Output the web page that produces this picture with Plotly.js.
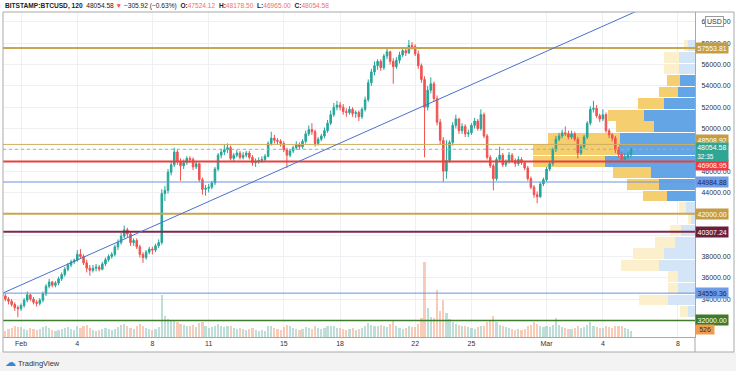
<!DOCTYPE html>
<html>
<head>
<meta charset="utf-8">
<script src="https://cdn.plot.ly/plotly-3.0.1.min.js"></script>
<style>html,body{margin:0;padding:0;background:#fff;}#chart{width:736px;height:371px;}</style>
</head>
<body>
<div id="chart"></div>
<script>
// ---------- DATA ----------
const symbol = 'BITSTAMP:BTCUSD, 120';
const lastPrice = 48054.58;
const change = '−305.92';
const changePct = '(−0.63%)';
const barO = '47524.12', barH = '48178.50', barL = '46965.00', barC = '48054.58';
const countdown = '32:35';
const lastVolLabel = '526';

const days = ['2021-01-31','2021-02-01','2021-02-02','2021-02-03','2021-02-04','2021-02-05','2021-02-06','2021-02-07',
  '2021-02-08','2021-02-09','2021-02-10','2021-02-11','2021-02-12','2021-02-13','2021-02-14','2021-02-15','2021-02-16',
  '2021-02-17','2021-02-18','2021-02-19','2021-02-20','2021-02-21','2021-02-22','2021-02-23','2021-02-24','2021-02-25',
  '2021-02-26','2021-02-27','2021-02-28','2021-03-01','2021-03-02','2021-03-03','2021-03-04','2021-03-05'];
const sessions = ['00:00','04:00','08:00','12:00','16:00','20:00'];

const open = [
34500,34300,34000,33800,33500,33200, 33100,33400,33900,34400,34000,33700, 33600,33900,34500,35200,35600,35300,
35500,35900,36300,36800,37200,37500, 37650,38200,38000,37400,36900,36700, 36900,37000,36800,37300,37700,38000,
38200,38900,39300,39900,40500,40100, 39300,39500,38900,38200,37900,38400, 38700,38600,39000,39300,43900,44200,
45900,46600,47800,46900,46500,46800, 47200,47100,46400,46700,45200,44300, 44400,44500,44900,46200,47500,47800,
48000,48200,47200,47500,47700,47300, 47500,47700,47300,46800,46900,47000, 47100,47400,48600,49100,48900,48800,
48600,48000,47500,47900,48200,48500, 48300,48800,49500,49900,49700,48600, 49000,49300,49800,50500,51300,52000,
52200,52000,51600,51500,51800,51400, 51500,51100,51800,52700,54300,55300, 55900,56300,55700,56800,57200,56300,
55800,56400,56900,57300,57100,57800, 57700,57000,55900,54600,52000,53600, 54200,52800,50600,48900,46000,47000,
48700,50300,50900,49800,50200,49500, 49600,50300,50700,50000,51300,49300, 47300,46500,45300,47100,47500,46600,
46900,47500,47000,46700,47100,46800, 46300,45300,44500,43800,43600,44800, 45200,46200,46700,48000,49000,49300,
49600,49500,49200,49500,49000,47700, 48300,49200,50500,51800,51900,51200, 50900,51300,49800,49400,49100,48000,
47600,47100,47300,47524.12];
const high = [
34700,34500,34200,34000,33700,33400, 33600,34100,34700,34500,34200,33900, 34100,34700,35400,35900,35700,35700,
36100,36500,37000,37400,37700,37800, 38600,38700,38200,37700,37200,37200, 37300,37200,37500,37900,38200,38400,
39100,39600,40200,40900,40700,40300, 39700,39700,39100,38400,38600,38900, 38900,39200,39600,44300,44600,46200,
46900,48200,48000,47200,47100,47400, 47400,47300,46900,46800,45400,44700, 44800,45100,46400,47700,48100,48500,
48600,48400,47700,48000,47900,47800, 47900,47900,47500,47200,47300,47400, 47600,48800,49700,49400,49100,49000,
48800,48200,48100,48400,48800,48700, 49000,49800,50300,50500,49900,49200, 49500,50100,50800,51700,52400,52600,
52500,52300,51900,52100,52000,51700, 51700,52000,53000,54600,55600,56300, 56500,56500,57000,57500,57300,56600,
56700,57200,57600,57500,58300,58100, 57900,57300,56100,54900,54000,54800, 54400,53100,50900,49200,48900,48900,
50600,51300,51000,50500,50400,49900, 50500,51000,50900,51800,51500,49500, 47500,46700,47300,48300,47700,47100,
47800,47700,47200,47400,47300,46900, 46500,45500,44700,44100,45000,45400, 46400,46900,48200,49300,49600,49900,
50200,49800,49800,49700,49200,48500, 49400,50700,52100,52600,52200,51400, 51800,51500,50000,49600,49300,48300,
47800,47700,47800,48178.50];
const low = [
34100,33800,33500,33300,32900,32300, 32900,33200,33700,33800,33500,33300, 33400,33700,34300,35000,35100,35100,
35300,35700,36100,36600,37000,37300, 37500,37800,37200,36500,36200,36500, 36600,36600,36700,37100,37500,37800,
38000,38600,39100,39700,39800,39000, 39000,38700,37900,37400,37700,38200, 38200,38400,38800,39100,43200,43900,
45600,46400,46600,45100,46200,46600, 46800,46100,46200,45000,43800,43700, 44000,44300,44700,46000,47200,47500,
47700,47000,46900,47300,47100,47100, 47300,47100,46500,46400,46700,46800, 46900,47300,48400,48600,48500,48300,
47800,46300,47300,47700,48000,48000, 48100,48600,49300,49400,48300,48400, 48800,49100,49600,50300,51100,51700,
51700,51300,51100,51300,51100,51000, 50700,50900,51600,52500,54000,55000, 55500,55400,55500,56500,56000,54200,
55600,56100,56700,56800,57000,57400, 56800,55600,54300,47300,51700,53300, 52500,50300,48500,45000,45300,46800,
48400,50000,49500,49500,49200,49200, 49400,50000,49800,49800,49100,47100, 46300,44200,45100,46900,46400,46400,
46700,46800,46400,46500,46600,46100, 45100,44300,43500,43000,43500,44600, 45000,46000,46500,47800,48800,49100,
49300,49000,49000,48800,47200,47500, 48100,49000,50300,51500,51000,50600, 50700,49600,49100,48800,47700,47300,
46965,47000,47100,47300];
const close = [
34300,34000,33800,33500,33200,33100, 33400,33900,34400,34000,33700,33600, 33900,34500,35200,35600,35300,35500,
35900,36300,36800,37200,37500,37650, 38200,38000,37400,36900,36700,36900, 37000,36800,37300,37700,38000,38200,
38900,39300,39900,40500,40100,39300, 39500,38900,38200,37900,38400,38700, 38600,39000,39300,43900,44200,45900,
46600,47800,46900,46500,46800,47200, 47100,46400,46700,45200,44300,44400, 44500,44900,46200,47500,47800,48000,
48200,47200,47500,47700,47300,47500, 47700,47300,46800,46900,47000,47100, 47400,48600,49100,48900,48800,48600,
48000,47500,47900,48200,48500,48300, 48800,49500,49900,49700,48600,49000, 49300,49800,50500,51300,52000,52200,
52000,51600,51500,51800,51400,51500, 51100,51800,52700,54300,55300,55900, 56300,55700,56800,57200,56300,55800,
56400,56900,57300,57100,57800,57700, 57000,55900,54600,52000,53600,54200, 52800,50600,48900,46000,47000,48700,
50300,50900,49800,50200,49500,49600, 50300,50700,50000,51300,49300,47300, 46500,45300,47100,47500,46600,46900,
47500,47000,46700,47100,46800,46300, 45300,44500,43800,43600,44800,45200, 46200,46700,48000,49000,49300,49600,
49500,49200,49500,49000,47700,48300, 49200,50500,51800,51900,51200,50900, 51300,49800,49400,49100,48000,47600,
47100,47300,47500,48054.58];
const volume = [
900,800,1000,1100,1300,1200, 1200,1000,900,1100,1000,900, 1000,1200,1300,1100,900,800,
900,1000,1100,1200,1000,900, 1300,1100,1400,1500,1100,900, 800,900,1000,1100,1000,900,
1000,1200,1500,1600,1300,1100, 1000,1300,1600,1400,1100,1000, 900,1000,1200,5200,2600,2200,
2000,2100,1800,1600,1500,1400, 1300,1500,1200,1700,1800,1300, 1100,1200,1400,1600,1300,1200,
1300,1400,1100,1000,1100,1000, 900,1000,1100,900,800,900, 800,1300,1400,1100,1000,900,
1200,1500,1300,1100,1000,900, 1000,1200,1100,1000,1400,1100, 1000,1100,1300,1400,1300,1100,
1100,1000,900,1000,1100,900, 1000,1100,1400,1700,1500,1300, 1400,1500,1300,1200,1600,2000,
1300,1100,1000,1100,1300,1200, 1200,1600,2300,9200,3600,2500, 2400,5800,3200,4600,3000,2200,
1800,1600,1500,1400,1300,1200, 1100,1000,1200,1300,1400,1900, 2100,2600,1800,1500,1300,1200,
1100,1000,900,1000,900,1000, 1300,1500,1800,1600,1400,1200, 1300,1200,1500,2400,1500,1200,
1100,1000,1000,1100,1300,1100, 1200,1500,1900,1400,1200,1100, 1100,1300,1200,1100,1400,1300,
1300,1100,1000,800];

// Volume profile (visible range), rows top -> bottom
const profPrice = [57758,56675,55592,54508,53425,52342,51258,50175,49092,48008,46925,45842,
  44758,43675,42592,41508,40425,39342,38258,37175,36092,35008,33925,32842];
const profUp   = [7,16,16,15,17,31,51,41,75,76,90,44,36,28,9,4,14,20,31,36,17,17,27,7];
const profDown = [4,15,15,13,19,26,36,38,72,86,72,38,32,24,7,3,11,20,31,38,10,10,29,8];
const valueAreaHigh = 55050, valueAreaLow = 43130;

// Horizontal levels drawn on chart
const levels      = [57553.81, 48508.92, 46908.95, 44984.88, 42000.00, 40307.24, 34559.36, 32000.00];
const levelColors = ['#c9a552','#cfae62','#e8403c','#6d93e0','#c9a552','#7c2a4c','#6d93e0','#3f7d2e'];
const levelLabelBg= ['#c49c45','#c49c45','#f23645','#6f9be6','#c49c45','#6b1f3f','#6f9be6','#3e7a2a'];
const levelLabelFg= ['#fff','#fff','#fff','#1b2a48','#fff','#fff','#1b2a48','#fff'];
const levelWidths = [2,1,2,1,2,2,1,1.5];
const levelShift  = [0,4,-4,0,0,0,0,0];

// Trend line drawing
const trendTime  = ['2021-01-31 00:59','2021-03-08 00:00'];
const trendPrice = [34572, 62730];

const tickDates = ['2021-02-01','2021-02-04','2021-02-08','2021-02-11','2021-02-15','2021-02-18',
  '2021-02-22','2021-02-25','2021-03-01','2021-03-04','2021-03-08'];
const tickText = ['Feb','4','8','11','15','18','22','25','Mar','4','8'];
// price-scale labels not hidden behind level labels
const priceTicks = [34000,36000,38000,44000,46000,50000,52000,54000,56000,58000,60000];

// ---------- BUILD ----------
const times = [];
for (const d of days) for (const s of sessions) if (times.length < close.length) times.push(d + ' ' + s);

const UP = '#26a69a', DN = '#ef5350';
const volColors = close.map((c,i)=> c >= open[i] ? 'rgba(130,190,178,0.5)' : 'rgba(240,155,115,0.5)');
const inVA = p => p <= valueAreaHigh && p >= valueAreaLow;
const upCols = profPrice.map(p => inVA(p) ? '#64a5e6' : '#d3e5f7');
const dnCols = profPrice.map(p => inVA(p) ? '#f4ce6f' : '#fcefcc');

const FONT = 'Liberation Sans, Arial, sans-serif';

const traces = [
  {type:'bar', orientation:'h', x:profUp, y:profPrice, xaxis:'x', yaxis:'y', width:1010,
   marker:{color:upCols, line:{width:0}}, hoverinfo:'skip'},
  {type:'bar', orientation:'h', x:profDown, y:profPrice, xaxis:'x', yaxis:'y', width:1010,
   marker:{color:dnCols, line:{width:0}}, hoverinfo:'skip'},
  {type:'candlestick', x:times, open:open, high:high, low:low, close:close, xaxis:'x2', yaxis:'y',
   increasing:{line:{color:UP, width:1}, fillcolor:UP},
   decreasing:{line:{color:DN, width:1}, fillcolor:DN},
   whiskerwidth:0, hoverinfo:'skip'},
  {type:'bar', x:times, y:volume, xaxis:'x2', yaxis:'y2', marker:{color:volColors, line:{width:0}}, hoverinfo:'skip'}
];

const shapes = [];
levels.forEach((lv,i)=>{
  shapes.push({type:'line', xref:'paper', x0:0, x1:1, yref:'y', y0:lv, y1:lv,
    line:{color:levelColors[i], width:levelWidths[i]}});
});
shapes.push({type:'line', xref:'paper', x0:0, x1:1, yref:'y', y0:lastPrice, y1:lastPrice,
  line:{color:'#8fb8b0', width:1, dash:'dot'}});
shapes.push({type:'line', xref:'x2', yref:'y', x0:trendTime[0], x1:trendTime[1], y0:trendPrice[0], y1:trendPrice[1],
  line:{color:'#4b6fd1', width:1}});
// frame and footer
const yBottomFrame = -15/325, yFooter = -34/325;
shapes.push({type:'rect', xref:'paper', yref:'paper', x0:-0.01, x1:1.07, y0:yFooter, y1:yBottomFrame,
  fillcolor:'#f3f3f3', line:{width:0}, layer:'below'});
shapes.push({type:'rect', xref:'paper', yref:'paper', x0:0, x1:731/692, y0:yBottomFrame, y1:1,
  line:{color:'#a9a9a9', width:1}});
shapes.push({type:'line', xref:'paper', yref:'paper', x0:1, x1:1, y0:yBottomFrame, y1:0,
  line:{color:'#a9a9a9', width:1}});

const annotations = [];
annotations.push({xref:'paper', yref:'paper', x:0, y:1, xanchor:'left', yanchor:'bottom', yshift:0, showarrow:false,
  font:{family:FONT, size:6.6, color:'#222'},
  text:'<b>'+symbol+'</b>  '+lastPrice.toFixed(2)+' <span style="color:#ef5350">▼</span> '+change+' '+changePct+
   '  <b>O:</b><span style="color:#ef6f6c">'+barO+'</span>  <b>H:</b><span style="color:#ef6f6c">'+barH+
   '</span>  <b>L:</b><span style="color:#ef6f6c">'+barL+'</span>  <b>C:</b><span style="color:#ef6f6c">'+barC+'</span>'});
levels.forEach((lv,i)=>{
  annotations.push({xref:'paper', yref:'y', x:1, y:lv, xanchor:'left', yanchor:'middle', yshift:levelShift[i],
    showarrow:false, bgcolor:levelLabelBg[i], borderpad:1.5,
    font:{family:FONT, size:7, color:levelLabelFg[i]}, text:lv.toFixed(2)});
});
annotations.push({xref:'paper', yref:'y', x:1, y:lastPrice, xanchor:'left', yanchor:'middle', yshift:-3,
  showarrow:false, bgcolor:'#2fa593', borderpad:1.2, align:'left',
  font:{family:FONT, size:7, color:'#fff'}, text:lastPrice.toFixed(2)+'<br><span style="font-size:6.5px">'+countdown+'</span>'});
annotations.push({xref:'paper', yref:'paper', x:1, y:8/325, xanchor:'left', yanchor:'middle',
  showarrow:false, bgcolor:'#f29a4e', borderpad:1.2,
  font:{family:FONT, size:7, color:'#333'}, text:' '+lastVolLabel+' '});
annotations.push({xref:'paper', yref:'y', x:1, y:60000, xanchor:'left', xshift:10, yanchor:'middle',
  showarrow:false, bgcolor:'#fff', bordercolor:'#9a9a9a', borderwidth:1, borderpad:1,
  font:{family:FONT, size:7, color:'#333'}, text:'USD'});
annotations.push({xref:'paper', yref:'paper', x:0, y:-25/325, xanchor:'left', yanchor:'middle', xshift:0,
  showarrow:false, font:{family:FONT, size:7.5, color:'#333'},
  text:'<span style="color:#3d84d6;font-size:11px">☁</span> TradingView'});

const layout = {
  width:736, height:371,
  margin:{l:3, r:41, t:12, b:34, pad:0},
  paper_bgcolor:'#fff', plot_bgcolor:'#fff',
  showlegend:false, barmode:'stack', bargap:0.3,
  font:{family:FONT, size:7, color:'#333'},
  xaxis:{range:[692,0], visible:false, fixedrange:true},
  xaxis2:{overlaying:'x', type:'date', range:['2021-01-31 00:59','2021-03-08 21:50'],
    tickvals:tickDates, ticktext:tickText, showgrid:true, gridcolor:'#eef0f3', gridwidth:1,
    zeroline:false, showline:true, linecolor:'#a9a9a9', ticks:'', tickfont:{family:FONT, size:7, color:'#333'},
    rangeslider:{visible:false}, side:'bottom'},
  yaxis:{side:'right', range:[30445,60931], tickmode:'array', tickvals:priceTicks, tickformat:'.2f',
    showgrid:false, zeroline:false, showline:true, linecolor:'#a9a9a9',
    ticks:'outside', ticklen:4, tickcolor:'rgba(0,0,0,0)', tickfont:{family:FONT, size:7, color:'#333'}},
  yaxis3:{overlaying:'y', range:[30445,60931], dtick:2000, tick0:0, showgrid:true, gridcolor:'#eef0f3',
    showticklabels:false, zeroline:false, ticks:''},
  yaxis2:{overlaying:'y', range:[0,40000], visible:false},
  shapes:shapes, annotations:annotations
};
// grid-only trace so the 2000-step price grid is drawn on its own axis
traces.unshift({type:'scatter', x:[], y:[], xaxis:'x', yaxis:'y3', hoverinfo:'skip'});

Plotly.newPlot('chart', traces, layout, {displayModeBar:false, staticPlot:true});
</script>
</body>
</html>
